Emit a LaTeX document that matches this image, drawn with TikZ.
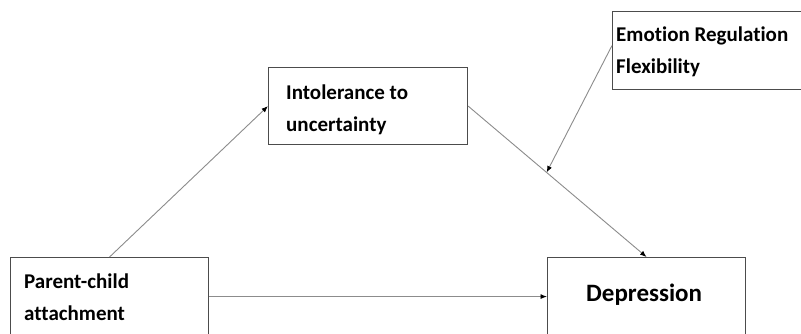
\documentclass[tikz,border=0pt]{standalone}
\usepackage{fontspec}
\setmainfont[Ligatures=NoCommon]{Carlito}
\usetikzlibrary{arrows.meta}
\begin{document}
\begin{tikzpicture}[x=1pt,y=-1pt,
  box/.style={draw=black!70,line width=1.1pt,fill=white,anchor=north west,inner sep=0pt},
  lbl/.style={anchor=base west,inner sep=0pt,font=\bfseries\fontsize{21}{21}\selectfont},
  conn/.style={draw=black!45,line width=0.9pt,-{Latex[length=6.5pt,width=5pt,black]}}]
\clip (0,0) rectangle (801,333);
\fill[white] (0,0) rectangle (801,333);
\node[box,minimum width=199pt,minimum height=77pt] (intol) at (268,67) {};
\node[box,minimum width=200pt,minimum height=78pt] (emo) at (612,11) {};
\node[box,minimum width=198pt,minimum height=78pt] (parent) at (10,257) {};
\node[box,minimum width=198pt,minimum height=78pt] (dep) at (547,257) {};
\node[lbl] (t1) at (286,99) {Intolerance to};
\node[lbl] (t2) at (286,131) {uncertainty};
\node[lbl] (t3) at (616,41) {Emotion Regulation};
\node[lbl] (t4) at (616,73) {Flexibility};
\node[lbl] (t5) at (24,288) {Parent-child};
\node[lbl] (t6) at (24,320) {attachment};
\node[lbl,font=\bfseries\fontsize{25}{25}\selectfont] (t7) at (586,301) {Depression};
\path (intol.east) -- (dep.north) coordinate[pos=0.44] (mid);
\draw[conn] (parent.north) -- (intol.west);
\draw[conn] (intol.east) -- (dep.north);
\draw[conn] ([yshift=5pt]emo.west) -- (mid);
\draw[conn] (parent.east) -- (dep.west);
\end{tikzpicture}
\end{document}
